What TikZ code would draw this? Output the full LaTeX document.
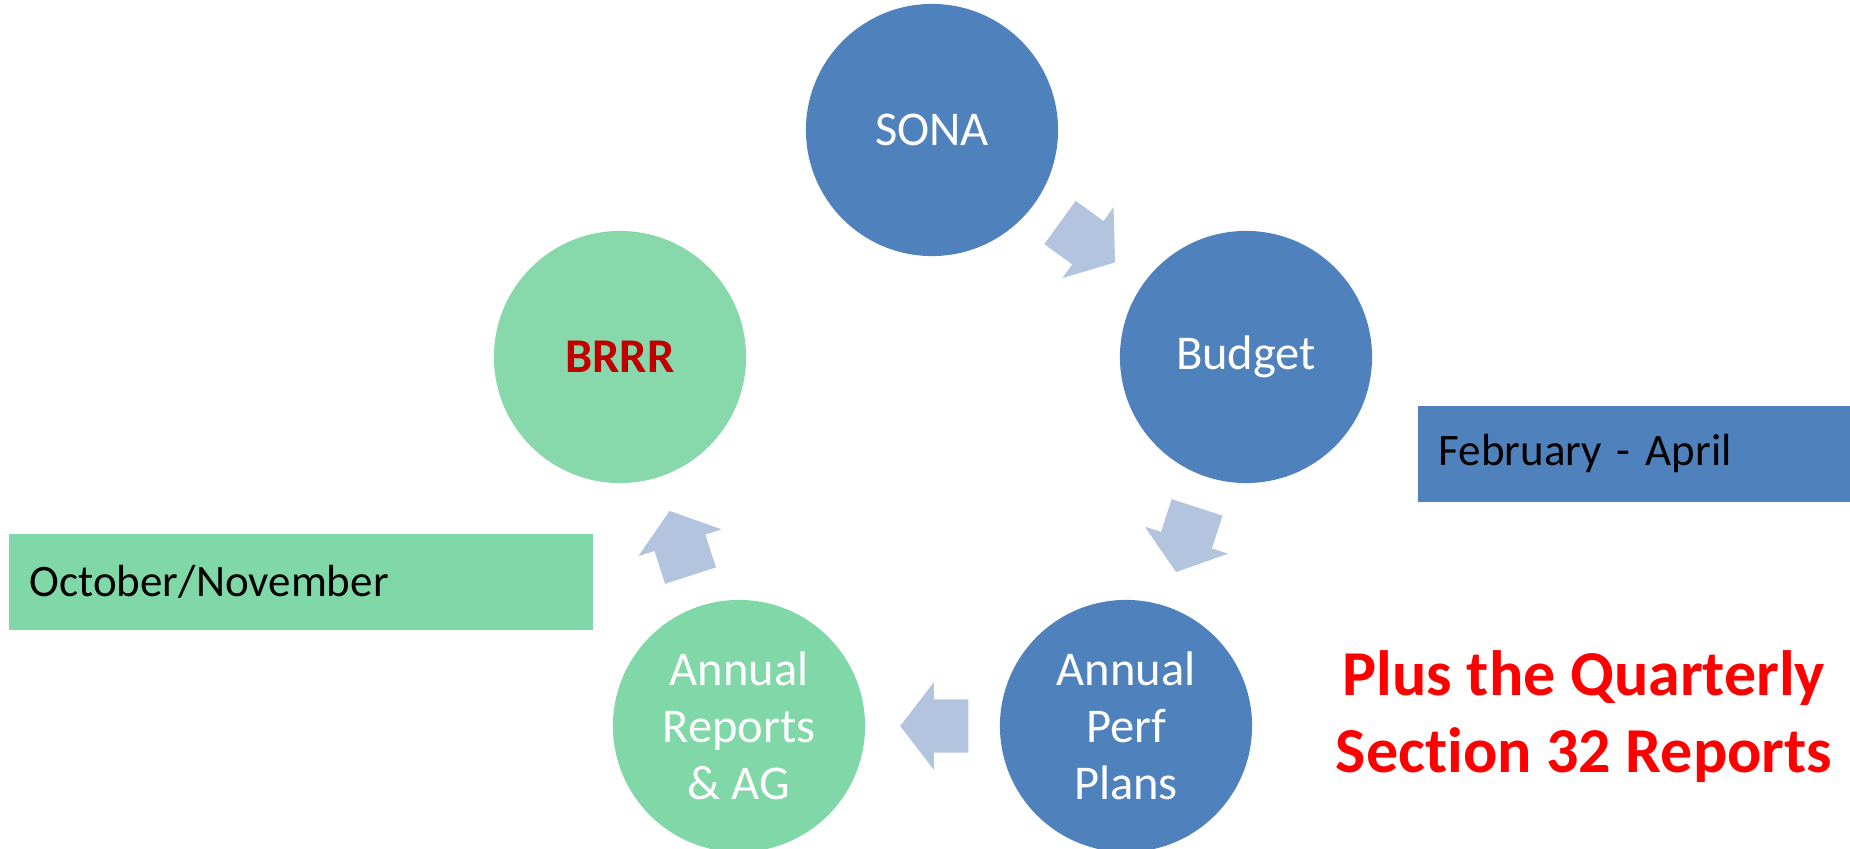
\documentclass[tikz,border=0pt]{standalone}
\usepackage{fontspec}
\setmainfont[Ligatures=NoCommon]{Carlito}
\usetikzlibrary{shapes.arrows}
\definecolor{circblue}{HTML}{4F81BD}
\definecolor{circgreen}{HTML}{87D9AC}
\definecolor{boxgreen}{HTML}{80D7A8}
\definecolor{arrowblue}{HTML}{B3C4DE}
\definecolor{brrrred}{HTML}{C00000}
\tikzset{
  stage/.style={circle, minimum size=2.52cm, inner sep=0pt, align=center,
    text=white, font=\fontsize{13.8}{16.2}\selectfont},
  blockarrow/.style={single arrow, fill=arrowblue, inner xsep=0pt, inner ysep=0.26cm,
    minimum height=0.68cm, single arrow head extend=0.17cm,
    single arrow tip angle=105, sloped, allow upside down},
  monthbox/.style={rectangle, inner xsep=0.21cm, inner ysep=0pt, align=left,
    font=\fontsize{12.8}{15}\selectfont, text=black}
}
\begin{document}
\begin{tikzpicture}[x=0.01cm, y=-0.01cm]
  \useasboundingbox (0,0) rectangle (1850,849);
  \clip (0,0) rectangle (1850,849);
  % the five stages
  \node[stage, fill=circblue] (sona) at (932,130) {SONA};
  \node[stage, fill=circblue] (budget) at (1246,357) {Budget};
  \node[stage, fill=circblue] (perf) at (1126,726) {Annual\\Perf\\Plans};
  \node[stage, fill=boxgreen] (reports) at (739,726) {Annual\\Reports\\\& AG};
  \node[stage, fill=circgreen, text=brrrred, font=\fontsize{13.8}{16.2}\selectfont\bfseries] (brrr) at (620,357) {BRRR};
  % arrows between stages
  \path (sona) -- (budget) node[pos=0.41, blockarrow] (a1) {};
  \path (budget) -- (perf) node[pos=0.41, blockarrow] (a2) {};
  \path (perf) -- (reports) node[pos=0.41, blockarrow] (a3) {};
  \path (reports) -- (brrr) node[pos=0.41, blockarrow] (a4) {};
  % months
  \node[monthbox, fill=circblue, minimum height=0.96cm, text width=4.12cm, anchor=west] (febapr) at (1417,454) {February - April};
  \node[monthbox, fill=boxgreen, minimum height=0.96cm, text width=5.42cm, anchor=west] (octnov) at (8,582) {October/November};
  % note
  \node[align=center, text=red, font=\fontsize{18.2}{21.9}\selectfont\bfseries] (note) at (1584,717) {Plus the Quarterly\\Section 32 Reports};
\end{tikzpicture}
\end{document}
